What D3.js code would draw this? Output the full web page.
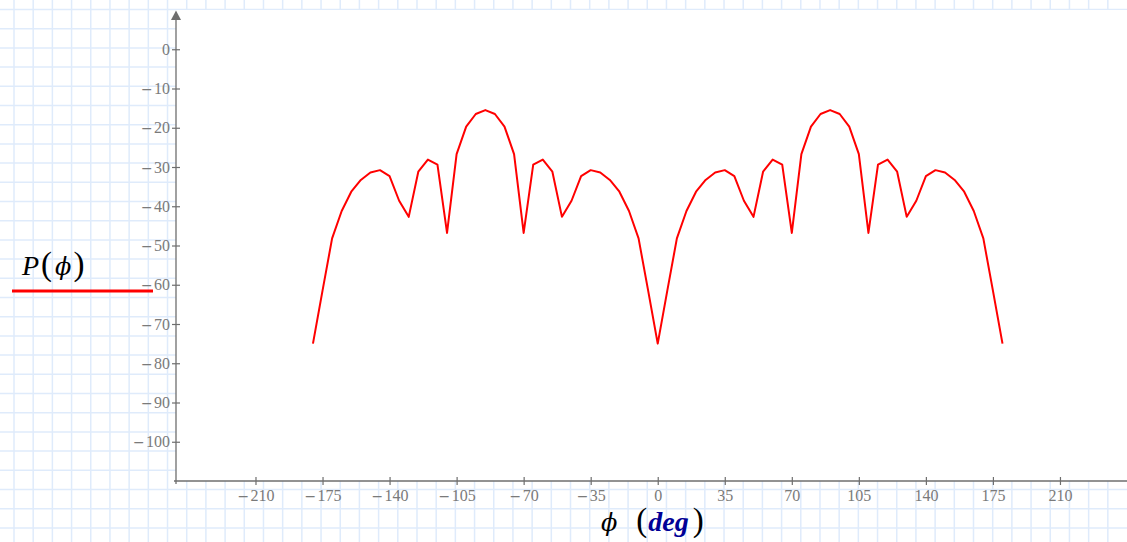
<!DOCTYPE html>
<html>
<head>
<meta charset="utf-8">
<script src="https://cdn.jsdelivr.net/npm/d3@7.9.0/dist/d3.min.js"></script>
<style>
  body { margin: 0; background: #fff; }
  .tick text { font-family: "Liberation Serif", serif; font-size: 16px; fill: #7a7a7a; }
  .tick line { stroke: #6e6e6e; stroke-width: 1.2; }
  .minus { font-family: "DejaVu Sans", sans-serif; font-size: 14px; }
</style>
</head>
<body>
<svg id="chart" width="1127" height="542"></svg>
<script>
// pattern sampled every 5 degrees
const angles = [
  -180, -175, -170, -165, -160, -155, -150, -145, -140, -135, -130, -125, -120,
  -115, -110, -105, -100, -95, -90, -85, -80, -75, -70, -65, -60, -55, -50,
  -45, -40, -35, -30, -25, -20, -15, -10, -5, 0, 5, 10, 15, 20, 25, 30,
  35, 40, 45, 50, 55, 60, 65, 70, 75, 80, 85, 90, 95, 100, 105, 110,
  115, 120, 125, 130, 135, 140, 145, 150, 155, 160, 165, 170, 175, 180
];
const power = [
  -75, -61.5, -48.2, -41.2, -36.3, -33.3, -31.4, -30.8, -32.3, -38.6, -42.7, -31.2, -28.1,
  -29.4, -46.8, -26.7, -19.7, -16.5, -15.5, -16.5, -19.7, -26.7, -46.8, -29.4, -28.1, -31.2, -42.7,
  -38.6, -32.3, -30.8, -31.4, -33.3, -36.3, -41.2, -48.2, -61.5, -75, -61.5, -48.2, -41.2, -36.3, -33.3, -31.4,
  -30.8, -32.3, -38.6, -42.7, -31.2, -28.1, -29.4, -46.8, -26.7, -19.7, -16.5, -15.5, -16.5, -19.7, -26.7, -46.8,
  -29.4, -28.1, -31.2, -42.7, -38.6, -32.3, -30.8, -31.4, -33.3, -36.3, -41.2, -48.2, -61.5, -75
];
const xTicks = [-210, -175, -140, -105, -70, -35, 0, 35, 70, 105, 140, 175, 210];
const yTicks = [0, -10, -20, -30, -40, -50, -60, -70, -80, -90, -100];

const W = 1127, H = 542;
const svg = d3.select('#chart');

const x = d3.scaleLinear().domain([-251.5, 245]).range([176, W]);
const y = d3.scaleLinear().domain([-110, 10]).range([481, 10]);

// worksheet grid paper
const grid = svg.append('g').attr('stroke', '#dfebfb').attr('stroke-width', 1.5);
for (let gx = 14; gx < W; gx += 19.19) {
  grid.append('line').attr('x1', gx).attr('x2', gx).attr('y1', 0).attr('y2', H);
}
for (let gy = 9.5; gy < H; gy += 19.2) {
  grid.append('line').attr('x1', 0).attr('x2', W).attr('y1', gy).attr('y2', gy);
}

// plot region
svg.append('rect')
  .attr('x', x.range()[0]).attr('y', y.range()[1])
  .attr('width', x.range()[1] - x.range()[0])
  .attr('height', y.range()[0] - y.range()[1])
  .attr('fill', '#fff');

// labels with a wide minus sign
function tickLabel(sel) {
  sel.each(function (d) {
    const t = d3.select(this).text('');
    if (d < 0) t.append('tspan').attr('class', 'minus').text('\u2212');
    t.append('tspan').text(d < 0 ? '\u200a' + Math.abs(d) : String(d));
  });
}

// y axis
const yAxis = svg.append('g')
  .attr('transform', `translate(${x.range()[0]},0)`)
  .call(d3.axisLeft(y).tickValues(yTicks).tickSize(4).tickPadding(2));
yAxis.select('.domain').remove();
yAxis.selectAll('.tick line').attr('x1', -4).attr('x2', 4);
yAxis.selectAll('.tick text').call(tickLabel);

// x axis
const xAxis = svg.append('g')
  .attr('transform', `translate(0,${y.range()[0]})`)
  .call(d3.axisBottom(x).tickValues(xTicks).tickSize(4).tickPadding(4.5));
xAxis.select('.domain').remove();
xAxis.selectAll('.tick line').attr('y1', -4).attr('y2', 4);
xAxis.selectAll('.tick text').call(tickLabel);

// axis lines
svg.append('line')
  .attr('x1', x.range()[0] - 2).attr('x2', W)
  .attr('y1', y.range()[0]).attr('y2', y.range()[0])
  .attr('stroke', '#6e6e6e').attr('stroke-width', 1.3);
svg.append('line')
  .attr('x1', x.range()[0]).attr('x2', x.range()[0])
  .attr('y1', y.range()[0] + 3).attr('y2', y.range()[1] + 8)
  .attr('stroke', '#6e6e6e').attr('stroke-width', 1.3);
const ax = x.range()[0], ay = y.range()[1];
svg.append('path')
  .attr('d', `M${ax},${ay + 0.5} L${ax - 5},${ay + 10} L${ax + 5},${ay + 10} Z`)
  .attr('fill', '#6e6e6e');

// curve
const line = d3.line()
  .x((d, i) => x(angles[i]))
  .y(d => y(d));
svg.append('path')
  .datum(power)
  .attr('d', line)
  .attr('fill', 'none')
  .attr('stroke', '#ff0000')
  .attr('stroke-width', 2)
  .attr('stroke-linejoin', 'round');

// legend
const leg = svg.append('text')
  .attr('x', 22).attr('y', 275)
  .attr('font-family', '"Liberation Serif", serif')
  .attr('font-size', 28)
  .attr('fill', '#000');
leg.append('tspan').attr('font-style', 'italic').text('P');
leg.append('tspan').attr('dx', 2).attr('font-size', 33).text('(');
leg.append('tspan').attr('dx', 3).attr('font-family', '"DejaVu Serif", serif').attr('font-style', 'italic').attr('font-size', 24).text('\u03d5');
leg.append('tspan').attr('dx', 2).attr('font-size', 33).text(')');
svg.append('line')
  .attr('x1', 12).attr('x2', 153).attr('y1', 291).attr('y2', 291)
  .attr('stroke', '#ff0000').attr('stroke-width', 3);

// x title
const xt = svg.append('text')
  .attr('x', 601).attr('y', 531)
  .attr('font-family', '"Liberation Serif", serif')
  .attr('font-size', 28)
  .attr('fill', '#000');
xt.append('tspan').attr('font-family', '"DejaVu Serif", serif').attr('font-style', 'italic').attr('font-size', 24).text('\u03d5');
xt.append('tspan').attr('dx', 19).attr('font-size', 33).text('(');
xt.append('tspan').attr('dx', 1).attr('font-style', 'italic').attr('font-weight', 'bold').attr('fill', '#000096').text('deg');
xt.append('tspan').attr('dx', 4).attr('font-size', 33).text(')');
</script>
</body>
</html>
